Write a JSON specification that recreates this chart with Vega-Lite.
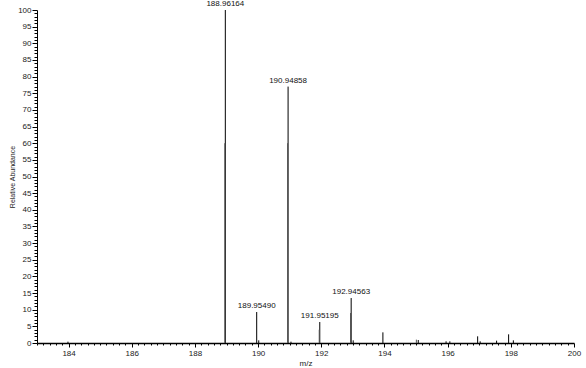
{
  "$schema": "https://vega.github.io/schema/vega-lite/v6.json",
  "width": 537,
  "height": 333,
  "autosize": {"type": "none"},
  "padding": {"left": 37, "top": 10, "right": 12, "bottom": 25},
  "background": "white",
  "config": {"view": {"stroke": null}, "font": "Liberation Sans"},
  "data": {
    "values": [
      {"mz": 183.98, "ab": 0.4, "kind": "peak", "label": ""},
      {"mz": 188.96164, "ab": 100, "kind": "peak", "label": "188.96164"},
      {"mz": 188.945, "ab": 60, "kind": "profile", "label": ""},
      {"mz": 189.95490, "ab": 9.3, "kind": "peak", "label": "189.95490"},
      {"mz": 190.02, "ab": 0.8, "kind": "peak", "label": ""},
      {"mz": 190.94858, "ab": 77, "kind": "peak", "label": "190.94858"},
      {"mz": 190.932, "ab": 60, "kind": "profile", "label": ""},
      {"mz": 191.04, "ab": 0.4, "kind": "peak", "label": ""},
      {"mz": 191.95195, "ab": 6.3, "kind": "peak", "label": "191.95195"},
      {"mz": 191.935, "ab": 4, "kind": "profile", "label": ""},
      {"mz": 192.94563, "ab": 13.5, "kind": "peak", "label": "192.94563"},
      {"mz": 192.925, "ab": 9, "kind": "profile", "label": ""},
      {"mz": 193.01, "ab": 0.8, "kind": "peak", "label": ""},
      {"mz": 193.95, "ab": 3.2, "kind": "peak", "label": ""},
      {"mz": 195.01, "ab": 1.0, "kind": "profile", "label": ""},
      {"mz": 195.07, "ab": 0.9, "kind": "peak", "label": ""},
      {"mz": 195.95, "ab": 0.5, "kind": "peak", "label": ""},
      {"mz": 196.07, "ab": 0.5, "kind": "peak", "label": ""},
      {"mz": 196.95, "ab": 2.0, "kind": "peak", "label": ""},
      {"mz": 197.03, "ab": 0.5, "kind": "peak", "label": ""},
      {"mz": 197.55, "ab": 0.7, "kind": "peak", "label": ""},
      {"mz": 197.93, "ab": 2.6, "kind": "peak", "label": ""},
      {"mz": 198.08, "ab": 0.8, "kind": "peak", "label": ""}
    ]
  },
  "encoding": {
    "x": {
      "field": "mz", "type": "quantitative",
      "scale": {"domain": [183, 200], "nice": false, "zero": false},
      "axis": {
        "title": "m/z",
        "titleFont": "Liberation Sans", "titleFontSize": 8, "titleFontWeight": "normal",
        "titleColor": "#222", "titlePadding": 2,
        "tickCount": 85,
        "labelExpr": "abs(round(datum.value*5) % 10) == 0 ? format(datum.value, 'd') : ''",
        "labelFont": "Liberation Sans", "labelFontSize": 8, "labelColor": "#222",
        "labelPadding": 2,
        "tickSize": {"condition": {"test": "abs(round(datum.value*5) % 10) == 0", "value": 4}, "value": 2},
        "tickColor": "#000", "domainColor": "#000", "domainWidth": 1.5,
        "grid": false, "labelOverlap": false, "labelFlush": false
      }
    },
    "y": {
      "field": "ab", "type": "quantitative",
      "scale": {"domain": [0, 100], "nice": false},
      "axis": {
        "title": "Relative Abundance",
        "titleFont": "Liberation Sans", "titleFontSize": 7, "titleFontWeight": "normal",
        "titleColor": "#222", "titlePadding": 2,
        "values": [0,1,2,3,4,5,6,7,8,9,10,11,12,13,14,15,16,17,18,19,20,21,22,23,24,25,26,27,28,29,30,31,32,33,34,35,36,37,38,39,40,41,42,43,44,45,46,47,48,49,50,51,52,53,54,55,56,57,58,59,60,61,62,63,64,65,66,67,68,69,70,71,72,73,74,75,76,77,78,79,80,81,82,83,84,85,86,87,88,89,90,91,92,93,94,95,96,97,98,99,100],
        "labelExpr": "datum.value % 5 == 0 ? format(datum.value, 'd') : ''",
        "labelFont": "Liberation Sans", "labelFontSize": 8, "labelColor": "#222",
        "labelPadding": 1,
        "tickSize": {"condition": {"test": "datum.value % 5 == 0", "value": 5}, "value": 3},
        "tickColor": "#000", "domainColor": "#000", "domainWidth": 1,
        "grid": false, "labelOverlap": false, "labelFlush": false
      }
    }
  },
  "layer": [
    {
      "mark": {"type": "rule", "strokeWidth": 1},
      "encoding": {
        "y2": {"datum": 0},
        "color": {
          "field": "kind", "type": "nominal",
          "scale": {"domain": ["peak", "profile"], "range": ["#000000", "#555555"]},
          "legend": null
        }
      }
    },
    {
      "transform": [{"filter": "datum.label != ''"}],
      "mark": {"type": "text", "dy": -2, "font": "Liberation Sans", "fontSize": 8, "color": "#111", "baseline": "bottom"},
      "encoding": {
        "text": {"field": "label"}
      }
    }
  ]
}
